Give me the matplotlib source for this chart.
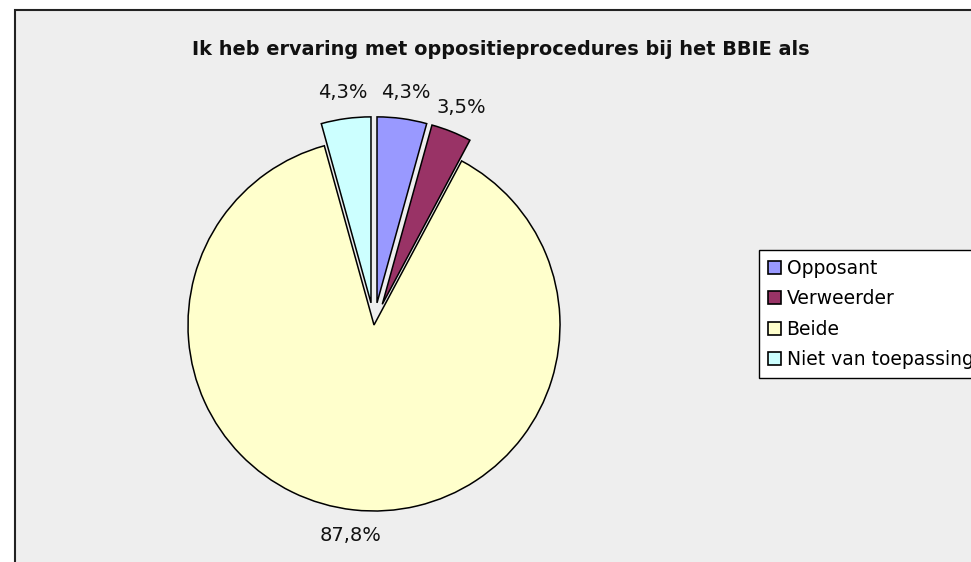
import matplotlib
matplotlib.use("Agg")
import matplotlib.pyplot as plt
from matplotlib.patches import Rectangle

categories = ["Opposant", "Verweerder", "Beide", "Niet van toepassing"]
values = [4.3, 3.5, 87.8, 4.3]
colors = ["#9999FF", "#993366", "#FFFFCC", "#CCFFFF"]
explode = [0.12, 0.12, 0.0, 0.12]
title = "Ik heb ervaring met oppositieprocedures bij het BBIE als"

W, H = 971, 562
DPI = 100
fig = plt.figure(figsize=(W / DPI, H / DPI), dpi=DPI)
fig.patch.set_facecolor("white")

# chart area border
fig.patches.append(Rectangle((14.5 / W, -0.1), 1.2, 1.1 - 9.5 / H,
                             transform=fig.transFigure, facecolor="#EEEEEE",
                             edgecolor="#222222", linewidth=1.5, zorder=-5))

R = 186.0
cx, cy = 374.0, H - 325.0
half = 1.5
ax = fig.add_axes([(cx - half * R) / W, (cy - half * R) / H,
                   2 * half * R / W, 2 * half * R / H], zorder=2)
ax.set_aspect("equal")
ax.axis("off")
ax.patch.set_alpha(0)

labels = [f"{v:.1f}%".replace(".", ",") for v in values]
wedges, texts = ax.pie(values, colors=colors, explode=explode, startangle=90,
                       counterclock=False, labels=labels, labeldistance=1.14,
                       wedgeprops=dict(edgecolor="black", linewidth=1.1),
                       textprops=dict(fontsize=14, family="DejaVu Sans", color="#111111"),
                       frame=False)
ax.set_xlim(-half, half)
ax.set_ylim(-half, half)
for t in texts:
    t.set_ha("center")
    t.set_va("center")

# title: fit width to reference
tsize = 13.0
ttl = fig.text(500.5 / W, 1 - 55 / H, title, ha="center", va="baseline",
               fontsize=tsize, fontweight="bold", family="DejaVu Sans", color="#111111")
fig.canvas.draw()
r = fig.canvas.get_renderer()
wpx = ttl.get_window_extent(r).width
ttl.set_fontsize(tsize * 611.0 / wpx)

# legend
fs = 13.5
fs_px = fs * DPI / 72.0
lsp, bpad = 0.5, 0.4


def make_legend(lsp, bpad):
    leg = fig.legend(wedges, categories, loc="upper left",
                     bbox_to_anchor=(759 / W, 1 - 250 / H),
                     frameon=True, fancybox=False, edgecolor="black",
                     framealpha=1.0, fontsize=fs, handlelength=0.7, handleheight=0.7,
                     handletextpad=0.3, labelspacing=lsp, borderpad=bpad,
                     borderaxespad=0, prop=dict(family="DejaVu Sans", size=fs))
    leg.get_frame().set_linewidth(1.0)
    leg.get_frame().set_facecolor("white")
    leg.set_zorder(5)
    for h in leg.legend_handles:
        h.set_linewidth(1.2)
    return leg


leg = make_legend(lsp, bpad)
for _ in range(3):
    fig.canvas.draw()
    tx = leg.get_texts()
    c0 = tx[0].get_window_extent(r)
    c1 = tx[1].get_window_extent(r)
    pitch = (c0.y0 + c0.y1) / 2 - (c1.y0 + c1.y1) / 2
    lsp += (30.5 - pitch) / fs_px
    leg.remove()
    leg = make_legend(lsp, bpad)
    fig.canvas.draw()
    hgt = leg.get_window_extent(r).height
    bpad += (128.0 - hgt) / (2 * fs_px)
    leg.remove()
    leg = make_legend(lsp, bpad)

fig.savefig("out.png", dpi=DPI, facecolor="white")
